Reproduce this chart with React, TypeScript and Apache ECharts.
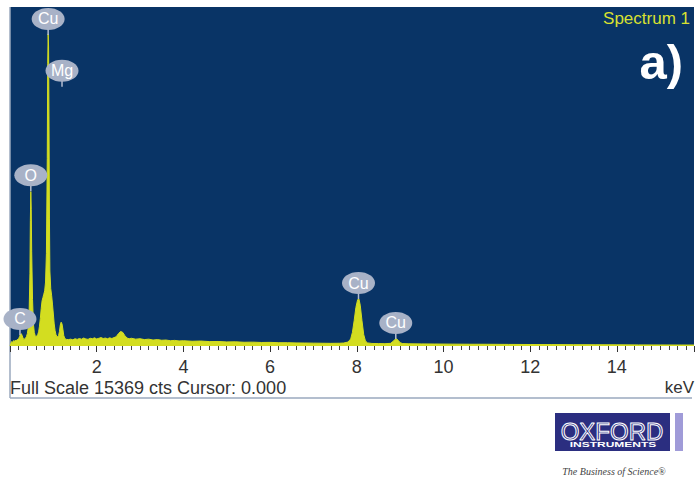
import React, { useEffect, useRef } from 'react';
import * as echarts from 'echarts';

// Spectrum channels (keV) and counts
const spectrumEnergy = [
  0.0, 0.02, 0.04, 0.06, 0.08, 0.1, 0.12, 0.14, 0.16, 0.18, 0.2, 0.22, 0.24, 0.26, 0.28, 0.3,
  0.32, 0.34, 0.36, 0.38, 0.4, 0.42, 0.44, 0.46, 0.47, 0.48, 0.49, 0.5, 0.52, 0.54, 0.56, 0.58,
  0.6, 0.62, 0.64, 0.66, 0.68, 0.7, 0.72, 0.74, 0.76, 0.78, 0.8, 0.82, 0.84, 0.86, 0.87, 0.88,
  0.89, 0.9, 0.91, 0.92, 0.94, 0.96, 0.98, 1.0, 1.02, 1.04, 1.06, 1.08, 1.1, 1.12, 1.14, 1.16,
  1.18, 1.2, 1.22, 1.24, 1.26, 1.28, 1.3, 1.35, 1.4, 1.45, 1.5, 1.55, 1.6, 1.65, 1.7, 1.75,
  1.8, 1.85, 1.9, 1.95, 2.0, 2.05, 2.1, 2.15, 2.2, 2.25, 2.3, 2.35, 2.4, 2.45, 2.5, 2.55,
  2.6, 2.65, 2.7, 2.75, 2.8, 2.9, 3.0, 3.1, 3.2, 3.3, 3.4, 3.5, 3.6, 3.7, 3.8, 3.9,
  4.0, 4.2, 4.4, 4.6, 4.8, 5.0, 5.2, 5.4, 5.6, 5.8, 6.0, 6.2, 6.4, 6.6, 6.8, 7.0,
  7.2, 7.4, 7.6, 7.7, 7.8, 7.86, 7.9, 7.94, 7.98, 8.02, 8.05, 8.08, 8.12, 8.16, 8.2, 8.25,
  8.35, 8.5, 8.65, 8.78, 8.84, 8.88, 8.92, 8.96, 9.0, 9.06, 9.2, 9.5, 9.8, 10.2, 10.6, 11.0,
  11.5, 12.0, 12.5, 13.0, 13.5, 14.0, 14.5, 15.0, 15.5, 15.78,
];
const spectrumCounts = [
  0, 120, 200, 160, 240, 210, 260, 230, 280, 300, 340, 420, 530, 560, 480, 360,
  300, 320, 360, 430, 560, 820, 1400, 3300, 5700, 7000, 6200, 4300, 2100, 1000, 620, 480,
  430, 450, 520, 640, 900, 1250, 1700, 2050, 2200, 2350, 2500, 2900, 4200, 8500, 12800, 14150,
  13600, 10200, 5800, 3400, 2600, 2300, 1900, 1450, 1000, 700, 520, 440, 420, 470, 650, 950,
  1080, 1000, 760, 480, 360, 320, 300, 290, 310, 280, 330, 300, 340, 310, 360, 320,
  300, 350, 330, 370, 320, 350, 380, 340, 360, 330, 370, 340, 380, 420, 560, 660,
  620, 470, 360, 330, 350, 310, 330, 290, 310, 270, 290, 260, 270, 240, 255, 230,
  240, 215, 225, 200, 205, 185, 190, 170, 175, 160, 165, 150, 150, 140, 135, 130,
  125, 120, 125, 135, 180, 320, 620, 1150, 1750, 2100, 2130, 1850, 1150, 520, 230, 140,
  115, 110, 105, 120, 210, 300, 320, 250, 150, 110, 100, 95, 90, 85, 80, 78,
  72, 68, 64, 60, 57, 54, 50, 48, 45, 44,
];

// Peak identification labels: element, energy (keV), counts at the stem foot
const peakLabelNames = ['Cu', 'Mg', 'O', 'C', 'Cu', 'Cu'];
const peakLabelEnergy = [0.88, 1.2, 0.48, 0.23, 8.04, 8.9];
const peakLabelCounts = [14100, 11750, 7020, 500, 2130, 320];

const fullScaleCounts = 15369;
const energyMin = 0;
const energyMax = 15.78;
const energyTickInterval = 2;

const FONT = '"Liberation Sans", Arial, Helvetica, sans-serif';

export default function App() {
  const ref = useRef<HTMLDivElement>(null);

  useEffect(() => {
    document.body.style.margin = '0';
    const chart = echarts.init(ref.current as HTMLDivElement, null, { renderer: 'svg' });
    const spectrum = spectrumEnergy.map((e, i) => [e, spectrumCounts[i]]);
    const labels = peakLabelEnergy.map((e, i) => [e, peakLabelCounts[i]]);

    chart.setOption({
      animation: false,
      backgroundColor: '#ffffff',
      grid: {
        left: 10,
        right: 3,
        top: 7,
        bottom: 138,
        show: true,
        backgroundColor: '#093466',
        borderWidth: 0,
      },
      xAxis: {
        type: 'value',
        min: energyMin,
        max: energyMax,
        interval: energyTickInterval,
        axisLine: { show: false },
        axisTick: { show: true, length: 6, lineStyle: { color: '#333', width: 1 } },
        minorTick: { show: true, splitNumber: 10, length: 4, lineStyle: { color: '#444', width: 1 } },
        splitLine: { show: false },
        axisLabel: {
          showMinLabel: false,
          showMaxLabel: false,
          margin: 12,
          fontSize: 18,
          color: '#333',
          fontFamily: FONT,
        },
      },
      yAxis: { type: 'value', min: 0, max: fullScaleCounts, show: false },
      series: [
        {
          type: 'line',
          data: spectrum,
          showSymbol: false,
          symbol: 'none',
          lineStyle: { color: '#d3dd20', width: 1 },
          areaStyle: { color: '#d3dd20', opacity: 1 },
          z: 2,
        },
        {
          type: 'custom',
          data: labels,
          z: 3,
          renderItem: (params: any, api: any) => {
            const p = api.coord([api.value(0), api.value(1)]);
            const name = peakLabelNames[params.dataIndex];
            return {
              type: 'group',
              children: [
                {
                  type: 'line',
                  shape: { x1: p[0], y1: p[1] - 8, x2: p[0], y2: p[1] },
                  style: { stroke: '#b4bdd0', lineWidth: 1.5 },
                },
                {
                  type: 'ellipse',
                  shape: { cx: p[0], cy: p[1] - 16, rx: 16.5, ry: 11 },
                  style: { fill: '#a8b2c7' },
                },
                {
                  type: 'text',
                  x: p[0],
                  y: p[1] - 16,
                  style: {
                    text: name,
                    align: 'center',
                    verticalAlign: 'middle',
                    fill: '#ffffff',
                    font: `16px ${FONT}`,
                  },
                },
              ],
            };
          },
        },
      ],
      graphic: [
        { type: 'line', shape: { x1: 10, y1: 7, x2: 10, y2: 398 }, style: { stroke: '#9aa8be', lineWidth: 1.5 } },
        { type: 'line', shape: { x1: 10, y1: 398, x2: 692, y2: 398 }, style: { stroke: '#9aa8be', lineWidth: 1.5 } },
        {
          type: 'text',
          x: 10,
          y: 388,
          style: { text: 'Full Scale 15369 cts Cursor: 0.000', font: `18px ${FONT}`, fill: '#333', align: 'left', verticalAlign: 'middle' },
        },
        {
          type: 'text',
          x: 694,
          y: 387,
          style: { text: 'keV', font: `17px ${FONT}`, fill: '#333', align: 'right', verticalAlign: 'middle' },
        },
        {
          type: 'text',
          x: 690,
          y: 18,
          style: { text: 'Spectrum 1', font: `17px ${FONT}`, fill: '#d8e030', align: 'right', verticalAlign: 'middle' },
        },
        {
          type: 'text',
          x: 683,
          y: 62,
          style: { text: 'a)', font: `bold 49px ${FONT}`, fill: '#ffffff', align: 'right', verticalAlign: 'middle' },
        },
        { type: 'rect', shape: { x: 555, y: 413, width: 115, height: 38 }, style: { fill: '#2b2e80' } },
        { type: 'rect', shape: { x: 675, y: 413, width: 8, height: 38 }, style: { fill: '#a09bd8' } },
        {
          type: 'text',
          x: 612,
          y: 431,
          style: { text: 'OXFORD', font: `24px ${FONT}`, fill: 'none', stroke: '#ffffff', lineWidth: 1, align: 'center', verticalAlign: 'middle' },
        },
        {
          type: 'text',
          x: 613,
          y: 444,
          scaleX: 1.5,
          style: { text: 'INSTRUMENTS', font: `bold 8px ${FONT}`, fill: '#ffffff', align: 'center', verticalAlign: 'middle' },
        },
        {
          type: 'text',
          x: 614,
          y: 471,
          style: { text: 'The Business of Science®', font: `italic 10px "Liberation Serif", "Times New Roman", serif`, fill: '#444', align: 'center', verticalAlign: 'middle' },
        },
      ],
    });

    return () => chart.dispose();
  }, []);

  return <div ref={ref} style={{ position: 'absolute', left: 0, top: 0, width: 697, height: 484 }} />;
}
